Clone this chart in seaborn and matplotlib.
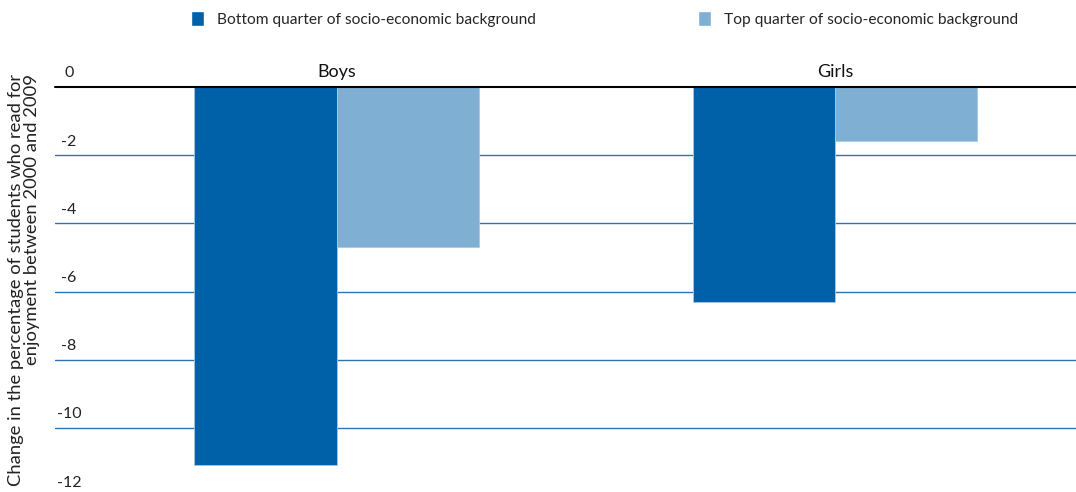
import matplotlib
matplotlib.use("Agg")
import matplotlib.pyplot as plt
import seaborn as sns
import pandas as pd
from matplotlib.patches import Patch

categories = ["Boys", "Girls"]
series = ["Bottom quarter of socio-economic background", "Top quarter of socio-economic background"]
bottom_vals = [-11.08, -6.30]
top_vals = [-4.69, -1.58]
ytick_vals = [0, -2, -4, -6, -8, -10, -12]
ytick_labels = ["0", "-2", "-4", "-6", "-8", "-10", "-12"]
ylabel = "Change in the percentage of students who read for\nenjoyment between 2000 and 2009"

colors = ["#0060a8", "#80afd4"]

df = pd.DataFrame({
    "cat": categories * 2,
    "series": [series[0]] * 2 + [series[1]] * 2,
    "val": bottom_vals + top_vals,
})

sns.set_theme(style="white")
plt.rcParams["font.family"] = ["Lato", "DejaVu Sans"]

fig = plt.figure(figsize=(10.76, 4.92), dpi=100)
ax = fig.add_axes([55 / 1076, 0, (1076 - 55) / 1076, 405 / 492])

sns.barplot(data=df, x="cat", y="val", hue="series", order=categories, hue_order=series,
            palette=colors, width=0.572, gap=0, ax=ax, legend=False,
            edgecolor="#a9c9e6", linewidth=0.6, saturation=1)

ax.set_xlim(-0.566, 1.484)
ax.set_ylim(-11.877, 0)

for v in ytick_vals[1:]:
    ax.axhline(v, color="#2f72b3", lw=1.0, zorder=0)
ax.axhline(0, color="black", lw=1.5, zorder=5, clip_on=False)

ax.set_yticks([])
ax.set_xticks([])
ax.set_xlabel("")
ax.set_ylabel("")
for s in ax.spines.values():
    s.set_visible(False)

trans = matplotlib.transforms.blended_transform_factory(ax.transAxes, ax.transData)
for v, lab in zip(ytick_vals, ytick_labels):
    ax.text(14 / 1021, v + 0.40, lab, transform=trans, ha="center", va="center",
            fontsize=11.5, color="#222222", clip_on=False)

for i, c in enumerate(categories):
    ax.text(i, 0.43, c, ha="center", va="center", fontsize=13, color="#111111", clip_on=False)

fig.text(24 / 1076, 1 - 280 / 492, ylabel, rotation=90, ha="center", va="center",
         multialignment="right", fontsize=13.2, color="#222222", linespacing=1.05)

handles = [Patch(facecolor=colors[0]), Patch(facecolor=colors[1])]
fig.legend(handles, series, loc="upper left", bbox_to_anchor=(191 / 1076, 1 - 11 / 492),
           ncol=2, frameon=False, fontsize=11.2, handlelength=0.85, handleheight=1.1,
           handletextpad=0.8, columnspacing=10.45, borderaxespad=0, borderpad=0)

fig.savefig("out.png", dpi=100)
